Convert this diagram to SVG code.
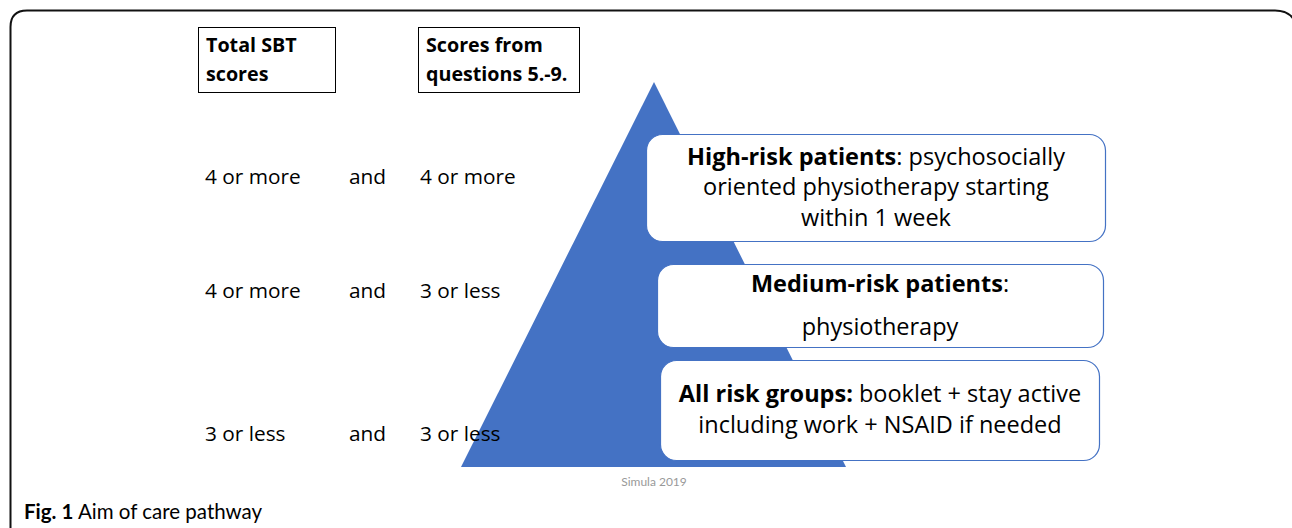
<svg xmlns="http://www.w3.org/2000/svg" width="1292" height="528" viewBox="0 0 1292 528">
<style>
text{font-family:"Open Sans","Liberation Sans",sans-serif;fill:#000}
.hd{font-size:19.7px;font-weight:bold}
.lbl{font-size:20.8px}
.bx{font-size:23.5px}
.b{font-weight:bold}
.hbox{fill:#fff;stroke:#000;stroke-width:1}
.rbox{fill:#fff;stroke:#4472C4;stroke-width:1.2}
.cap{font-family:Lato,"Liberation Sans",sans-serif;font-size:20.5px}
</style>
<rect width="1292" height="528" fill="#fff"/>
<path d="M10.5,540 V27 Q10.5,10.5 27,10.5 H1275 Q1291,10.5 1296,24" fill="none" stroke="#111" stroke-width="2"/>
<g id="hdr1"><rect class="hbox" x="198.5" y="27.5" width="137" height="65"/><text class="hd" x="206" y="52">Total SBT</text><text class="hd" x="206" y="81">scores</text></g>
<g id="hdr2"><rect class="hbox" x="418.5" y="27.5" width="161" height="65"/><text class="hd" x="426" y="52">Scores from</text><text class="hd" x="426" y="81">questions 5.-9.</text></g>
<g id="triangle"><polygon points="654,82 461,467 846,467" fill="#4472C4"/></g>
<g id="rows">
<text class="lbl" x="205" y="184">4 or more</text><text class="lbl" x="349" y="184">and</text><text class="lbl" x="420" y="184">4 or more</text>
<text class="lbl" x="205" y="298">4 or more</text><text class="lbl" x="349" y="298">and</text><text class="lbl" x="420" y="298">3 or less</text>
<text class="lbl" x="205" y="441">3 or less</text><text class="lbl" x="349" y="441">and</text><text class="lbl" x="420" y="441">3 or less</text>
</g>
<g id="high"><rect class="rbox" x="646.5" y="134.5" width="459" height="107" rx="16"/>
<text class="bx" text-anchor="middle" x="876" y="165"><tspan class="b">High-risk patients</tspan>: psychosocially</text>
<text class="bx" text-anchor="middle" x="876" y="195">oriented physiotherapy starting</text>
<text class="bx" text-anchor="middle" x="876" y="226">within 1 week</text></g>
<g id="medium"><rect class="rbox" x="657.5" y="264.5" width="446" height="83" rx="16"/>
<text class="bx" text-anchor="middle" x="880" y="292"><tspan class="b">Medium-risk patients</tspan>:</text>
<text class="bx" text-anchor="middle" x="880" y="335">physiotherapy</text></g>
<g id="all"><rect class="rbox" x="660.5" y="360.5" width="439" height="100" rx="16"/>
<text class="bx" text-anchor="middle" x="880" y="402"><tspan class="b">All risk groups:</tspan> booklet + stay active</text>
<text class="bx" text-anchor="middle" x="880" y="433">including work + NSAID if needed</text></g>
<g id="connectors"/>
<text x="654" y="486" text-anchor="middle" font-size="12" style="fill:#999;font-family:Lato,sans-serif">Simula 2019</text>
<text class="cap" x="24" y="519"><tspan font-weight="bold">Fig. 1</tspan> Aim of care pathway</text>
</svg>
